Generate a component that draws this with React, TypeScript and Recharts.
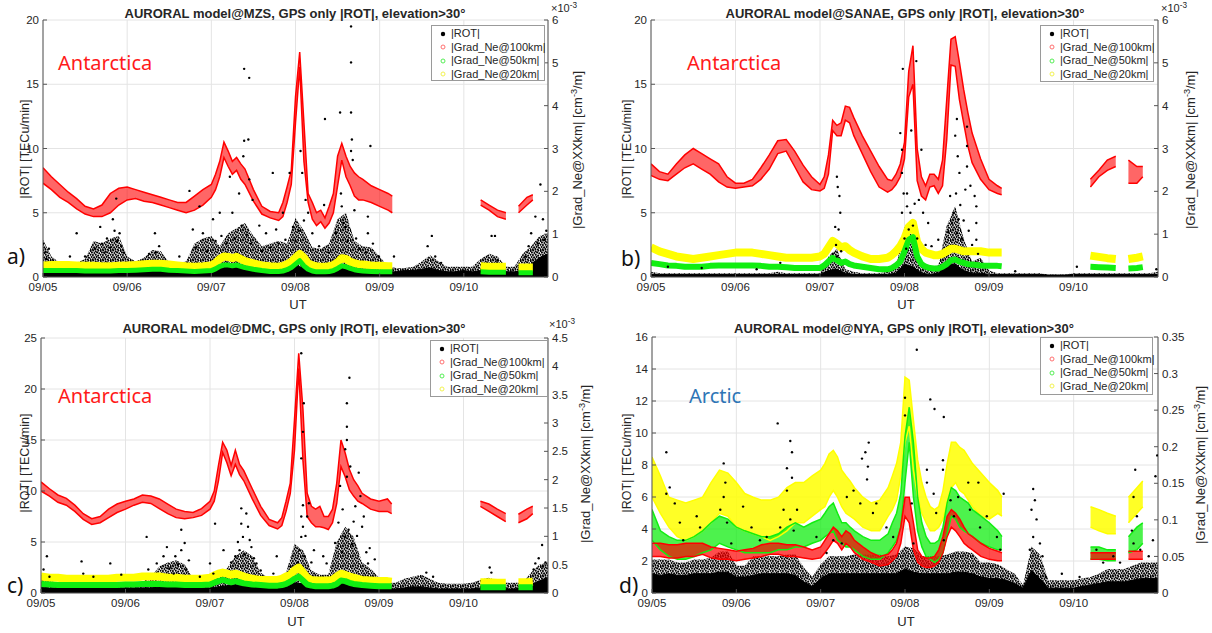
import React from "react";
import { ComposedChart, XAxis, YAxis, CartesianGrid, Line, Area, Scatter } from "recharts";

// x axis: days since 09/05 00 UT
const DAYS = ["09/05", "09/06", "09/07", "09/08", "09/09", "09/10"];

// time grid of the gradient curves (nulls in the series mark the data gaps)
const T = [
  0, 0.1, 0.2, 0.3, 0.4, 0.5, 0.6, 0.7, 0.8, 0.9,
  1.0, 1.1, 1.2, 1.3, 1.4, 1.5, 1.6, 1.7, 1.8, 1.9,
  2.0, 2.05, 2.1, 2.15, 2.2, 2.25, 2.3, 2.35, 2.4,
  2.5, 2.6, 2.7, 2.8,
  2.85, 2.9, 2.95, 3.0, 3.05, 3.1, 3.15, 3.2, 3.25, 3.3, 3.35, 3.4, 3.45, 3.5, 3.55, 3.6, 3.65, 3.7, 3.75, 3.8,
  3.9, 4.0, 4.1, 4.15,
  4.6, 5.2, 5.3, 5.4, 5.5, 5.58, 5.65, 5.75, 5.82,
];

// ---- a) MZS  (Grad_Ne in 1e-3 cm^-3/m)
const aRedHi = [
  2.55, 2.34, 2.16, 1.98, 1.83, 1.65, 1.59, 1.68, 1.95, 2.07,
  2.10, 2.04, 1.98, 1.92, 1.86, 1.80, 1.74, 1.74, 1.89, 2.04,
  2.16, 2.40, 2.70, 3.15, 2.94, 2.70, 2.79, 2.64, 2.52,
  2.04, 1.65, 1.53, 1.50,
  1.74, 2.10, 2.49, 4.20, 5.25, 3.60, 1.95, 1.74, 1.50, 1.56, 1.38, 1.65, 1.95, 2.82, 3.12, 2.82, 2.58, 2.43, 2.34, 2.28,
  2.13, 2.04, 1.95, 1.89,
  null, 1.80, 1.68, 1.56, 1.50, null, 1.65, 1.86, 1.92,
];
const aRedLo = [
  2.19, 2.04, 1.86, 1.74, 1.59, 1.47, 1.41, 1.41, 1.50, 1.68,
  1.80, 1.83, 1.77, 1.74, 1.68, 1.62, 1.56, 1.50, 1.56, 1.68,
  1.86, 2.04, 2.34, 2.79, 2.58, 2.40, 2.49, 2.28, 2.16,
  1.77, 1.47, 1.38, 1.32,
  1.41, 1.74, 2.16, 3.60, 4.90, 2.70, 1.74, 1.35, 1.20, 1.29, 1.14, 1.26, 1.50, 2.13, 2.73, 2.34, 2.13, 1.89, 1.80, 1.80,
  1.74, 1.65, 1.56, 1.50,
  null, 1.68, 1.56, 1.41, 1.35, null, 1.50, 1.68, 1.80,
];
const aYellow = [
  0.27, 0.28, 0.28, 0.28, 0.27, 0.26, 0.26, 0.25, 0.25, 0.26,
  0.27, 0.28, 0.30, 0.31, 0.31, 0.29, 0.27, 0.25, 0.24, 0.25,
  0.27, 0.33, 0.42, 0.48, 0.47, 0.44, 0.47, 0.42, 0.37,
  0.32, 0.27, 0.25, 0.24,
  0.26, 0.30, 0.36, 0.45, 0.54, 0.45, 0.32, 0.27, 0.25, 0.24, 0.24, 0.25, 0.28, 0.34, 0.44, 0.42, 0.36, 0.32, 0.30, 0.29,
  0.27, 0.26, 0.25, 0.25,
  null, 0.25, 0.24, 0.24, 0.24, null, 0.22, 0.22, 0.22,
];
const aGreen = [
  0.15, 0.15, 0.15, 0.15, 0.15, 0.14, 0.14, 0.14, 0.14, 0.15,
  0.15, 0.16, 0.17, 0.18, 0.18, 0.16, 0.15, 0.14, 0.13, 0.14,
  0.15, 0.19, 0.25, 0.28, 0.28, 0.26, 0.28, 0.25, 0.22,
  0.18, 0.15, 0.13, 0.13,
  0.14, 0.17, 0.22, 0.30, 0.38, 0.26, 0.18, 0.14, 0.12, 0.12, 0.12, 0.13, 0.15, 0.20, 0.26, 0.24, 0.20, 0.17, 0.15, 0.14,
  0.13, 0.12, 0.12, 0.12,
  null, 0.12, 0.11, 0.11, 0.11, null, 0.10, 0.10, 0.10,
];
// |ROT| (TECu/min), every 0.1 day: solid black floor and top of the dense dot cloud
const aFloor = [
  0.5, 0.4, 0.4, 0.4, 0.4, 0.4, 0.5, 0.6, 0.7, 0.6,
  0.5, 0.4, 0.4, 0.5, 0.5, 0.4, 0.4, 0.4, 0.5, 0.6,
  0.6, 0.7, 0.8, 0.8, 0.8, 0.6, 0.5, 0.5, 0.6, 0.7,
  0.9, 0.7, 0.5, 0.5, 0.5, 0.9, 0.9, 0.7, 0.6, 0.5,
  0.4, 0.4, 0.4, 0.5, 0.5, 0.6, 0.7, 0.5, 0.4, 0.4,
  0.5, 0.4, 0.5, 0.6, 0.5, 0.4, 0.4, 0.5, 1.0, 1.5,
  1.8,
];
const aDense = [
  2.9, 1.6, 1.1, 1.0, 1.1, 1.4, 2.8, 2.6, 3.0, 3.2,
  1.6, 1.2, 1.5, 2.1, 2.0, 1.1, 1.1, 1.2, 2.6, 3.0,
  3.2, 2.4, 3.4, 3.8, 4.2, 3.2, 2.4, 2.6, 2.8, 2.6,
  4.6, 3.6, 2.3, 2.2, 2.6, 4.5, 5.0, 2.8, 2.4, 2.3,
  1.6, 0.8, 0.7, 0.7, 0.8, 1.2, 1.7, 1.2, 0.8, 0.8,
  0.8, 0.8, 1.4, 1.8, 1.6, 0.8, 0.8, 1.8, 2.4, 3.2,
  3.4,
];
const aDots = [
  [0.0, 2.6], [0.04, 1.4], [0.02, 1.9], [0.07, 2.2], [0.32, 1.6], [0.4, 3.4], [0.5, 1.6],
  [0.62, 2.2], [0.68, 3.9], [0.7, 2.6], [0.73, 1.9], [0.76, 3.0], [0.8, 2.3], [0.83, 4.5], [0.85, 3.6], [0.87, 6.1],
  [0.88, 2.8], [0.91, 3.4], [0.93, 2.4], [0.96, 1.9], [1.26, 1.8], [1.33, 3.4], [1.34, 1.9], [1.38, 2.4],
  [1.62, 1.6], [1.74, 6.7], [1.78, 3.7], [1.82, 2.3], [1.86, 5.5], [1.9, 3.4], [1.95, 2.0], [2.02, 4.5], [2.05, 2.8],
  [2.1, 5.0], [2.12, 3.2], [2.18, 2.6], [2.22, 7.8], [2.25, 5.0], [2.28, 3.0], [2.33, 6.5], [2.36, 4.0], [2.38, 9.4],
  [2.39, 16.2], [2.39, 10.6], [2.42, 3.3], [2.44, 10.7], [2.45, 15.5], [2.45, 7.6], [2.47, 2.6], [2.49, 6.0],
  [2.57, 4.0], [2.6, 2.0], [2.65, 3.4], [2.7, 2.3], [2.73, 8.1], [2.77, 3.7], [2.8, 2.6], [2.85, 5.0], [2.88, 2.9],
  [2.93, 8.1], [2.97, 3.9], [3.0, 2.8], [3.04, 3.6], [3.06, 9.8], [3.08, 8.1], [3.1, 4.4], [3.12, 6.0], [3.15, 5.0],
  [3.2, 3.4], [3.28, 2.4], [3.34, 5.6], [3.35, 12.3], [3.4, 1.9], [3.48, 3.4], [3.53, 12.8], [3.54, 6.5], [3.55, 5.5],
  [3.57, 4.2], [3.59, 3.9], [3.62, 2.8], [3.66, 19.5], [3.66, 16.7], [3.66, 12.8], [3.67, 10.7], [3.66, 9.8],
  [3.68, 9.1], [3.7, 5.2], [3.72, 3.0], [3.76, 2.2], [3.84, 1.9], [3.86, 4.7], [3.86, 3.4], [3.89, 10.2], [3.92, 2.6],
  [3.99, 1.6], [4.17, 1.6], [4.57, 2.4], [4.62, 3.2], [4.66, 1.6], [4.73, 1.1], [5.33, 3.2], [5.37, 3.2], [5.4, 1.3],
  [5.73, 1.6], [5.77, 2.4], [5.8, 3.4], [5.85, 4.7], [5.88, 2.6], [5.91, 7.2], [5.94, 4.5], [5.96, 2.9], [5.98, 3.6],
];

// ---- b) SANAE
const bRedHi = [
  2.64, 2.46, 2.40, 2.64, 2.85, 3.00, 2.88, 2.76, 2.64, 2.34,
  2.19, 2.19, 2.28, 2.55, 2.85, 3.18, 3.21, 2.94, 2.61, 2.34,
  2.16, 2.34, 2.85, 3.66, 3.54, 3.60, 3.99, 3.96, 3.72,
  3.30, 2.94, 2.58, 2.28,
  2.25, 2.40, 2.64, 3.15, 4.80, 5.40, 3.00, 2.34, 2.13, 2.40, 2.40, 2.28, 2.73, 4.14, 5.55, 5.61, 5.01, 4.38, 3.84, 3.36,
  2.76, 2.28, 2.13, 2.07,
  null, 2.28, 2.49, 2.73, 2.82, null, 2.73, 2.58, 2.58,
];
const bRedLo = [
  2.37, 2.28, 2.25, 2.40, 2.55, 2.64, 2.52, 2.40, 2.22, 2.10,
  2.07, 2.10, 2.13, 2.28, 2.52, 2.88, 2.94, 2.58, 2.22, 2.04,
  2.01, 2.07, 2.40, 3.42, 3.30, 3.30, 3.66, 3.60, 3.30,
  2.88, 2.46, 2.10, 1.98,
  2.04, 2.16, 2.34, 2.76, 4.20, 4.50, 2.25, 1.89, 1.80, 2.10, 2.13, 1.95, 2.13, 3.21, 4.95, 4.92, 4.14, 3.60, 3.06, 2.67,
  2.28, 2.04, 1.95, 1.92,
  null, 2.10, 2.34, 2.49, 2.58, null, 2.19, 2.19, 2.34,
];
const bYellow = [
  0.69, 0.60, 0.54, 0.48, 0.45, 0.42, 0.45, 0.48, 0.51, 0.54,
  0.57, 0.57, 0.57, 0.54, 0.51, 0.48, 0.45, 0.45, 0.45, 0.45,
  0.48, 0.54, 0.69, 0.84, 0.78, 0.69, 0.72, 0.63, 0.57,
  0.48, 0.42, 0.42, 0.45,
  0.51, 0.60, 0.72, 0.90, 1.17, 1.26, 0.81, 0.66, 0.57, 0.54, 0.51, 0.51, 0.54, 0.60, 0.66, 0.66, 0.63, 0.60, 0.60, 0.60,
  0.60, 0.57, 0.57, 0.57,
  null, 0.50, 0.47, 0.44, 0.42, null, 0.42, 0.45, 0.48,
];
const bGreen = [
  0.33, 0.30, 0.27, 0.26, 0.24, 0.24, 0.24, 0.26, 0.27, 0.27,
  0.27, 0.27, 0.27, 0.26, 0.24, 0.24, 0.23, 0.21, 0.21, 0.21,
  0.21, 0.27, 0.36, 0.45, 0.39, 0.33, 0.36, 0.30, 0.27,
  0.24, 0.21, 0.18, 0.18,
  0.21, 0.27, 0.36, 0.60, 0.87, 0.93, 0.48, 0.30, 0.24, 0.21, 0.20, 0.20, 0.24, 0.30, 0.39, 0.41, 0.36, 0.33, 0.30, 0.29,
  0.27, 0.26, 0.26, 0.25,
  null, 0.24, 0.23, 0.22, 0.21, null, 0.20, 0.21, 0.23,
];
const bFloor = [
  0.2, 0.2, 0.2, 0.2, 0.2, 0.2, 0.2, 0.2, 0.2, 0.2,
  0.2, 0.2, 0.2, 0.2, 0.2, 0.2, 0.2, 0.2, 0.2, 0.2,
  0.2, 0.5, 0.6, 0.3, 0.2, 0.2, 0.2, 0.2, 0.2, 0.3,
  1.0, 0.8, 0.3, 0.2, 0.3, 1.0, 1.0, 0.5, 0.3, 0.3,
  0.2, 0.2, 0.2, 0.2, 0.2, 0.2, 0.2, 0.15, 0.15, 0.15,
  0.2, 0.2, 0.2, 0.2, 0.2, 0.2, 0.2, 0.2, 0.2, 0.2,
  0.2,
];
const bDense = [
  0.4, 0.3, 0.3, 0.3, 0.3, 0.3, 0.3, 0.3, 0.3, 0.3,
  0.3, 0.3, 0.3, 0.3, 0.3, 0.4, 0.3, 0.3, 0.3, 0.3,
  0.3, 1.6, 2.2, 0.6, 0.4, 0.3, 0.3, 0.3, 0.4, 0.8,
  3.9, 3.2, 1.2, 0.8, 0.9, 4.0, 5.5, 3.0, 1.2, 1.5,
  0.5, 0.3, 0.3, 0.3, 0.3, 0.3, 0.3, 0.2, 0.2, 0.2,
  0.3, 0.3, 0.3, 0.3, 0.3, 0.3, 0.3, 0.3, 0.3, 0.3,
  0.4,
];
const bDots = [
  [2.15, 1.8], [2.18, 3.9], [2.2, 7.8], [2.21, 7.0], [2.22, 3.7], [2.23, 6.3], [2.24, 5.0], [2.19, 2.5], [2.25, 2.0],
  [2.2, 1.6], [2.95, 11.2], [2.97, 9.9], [2.97, 8.1], [2.97, 5.0], [2.98, 16.2], [2.99, 6.5], [3.0, 3.0], [3.02, 2.2],
  [3.03, 5.5], [3.03, 6.5], [3.05, 3.7], [3.07, 5.0], [3.08, 11.4], [3.1, 4.0], [3.12, 5.7], [3.14, 16.8], [3.15, 3.0],
  [3.17, 6.0], [3.2, 9.9], [3.22, 5.0], [3.25, 2.5], [3.28, 4.2], [3.32, 2.4], [3.4, 2.9], [3.52, 3.5], [3.54, 6.3],
  [3.56, 4.2], [3.58, 5.0], [3.6, 11.0], [3.61, 6.5], [3.62, 12.3], [3.62, 3.4], [3.63, 9.4], [3.64, 4.5], [3.65, 8.1],
  [3.66, 5.6], [3.68, 3.0], [3.7, 4.4], [3.72, 6.8], [3.74, 11.7], [3.74, 10.2], [3.74, 8.6], [3.76, 3.6], [3.78, 7.1],
  [3.8, 2.5], [3.83, 6.3], [3.85, 5.5], [3.85, 4.2], [3.85, 2.9], [3.87, 1.8], [1.53, 1.1], [0.2, 0.8], [0.6, 0.7],
  [1.25, 0.6], [4.31, 0.45], [5.04, 0.8], [5.98, 0.6],
];

// ---- c) DMC
const cRedHi = [
  1.96, 1.84, 1.73, 1.67, 1.55, 1.40, 1.31, 1.35, 1.48, 1.57,
  1.62, 1.66, 1.73, 1.71, 1.66, 1.57, 1.48, 1.44, 1.42, 1.49,
  1.62, 1.80, 2.25, 2.66, 2.52, 2.25, 2.52, 2.27, 2.16,
  1.84, 1.53, 1.30, 1.24,
  1.33, 1.62, 1.94, 3.06, 4.23, 3.24, 1.76, 1.53, 1.48, 1.53, 1.35, 1.35, 1.48, 1.94, 2.70, 2.47, 2.18, 2.00, 1.89, 1.76,
  1.66, 1.62, 1.66, 1.57,
  null, 1.62, 1.57, 1.48, 1.40, null, 1.39, 1.48, 1.53,
];
const cRedLo = [
  1.80, 1.71, 1.60, 1.55, 1.44, 1.30, 1.21, 1.24, 1.33, 1.42,
  1.48, 1.55, 1.60, 1.58, 1.49, 1.40, 1.33, 1.31, 1.33, 1.37,
  1.48, 1.62, 1.98, 2.48, 2.30, 2.07, 2.27, 2.09, 1.98,
  1.66, 1.37, 1.19, 1.13,
  1.19, 1.44, 1.76, 2.52, 3.96, 2.34, 1.35, 1.24, 1.17, 1.17, 1.15, 1.12, 1.24, 1.58, 2.23, 2.05, 1.82, 1.71, 1.62, 1.58,
  1.48, 1.44, 1.44, 1.40,
  null, 1.53, 1.44, 1.35, 1.26, null, 1.24, 1.31, 1.40,
];
const cYellow = [
  0.29, 0.27, 0.27, 0.25, 0.25, 0.25, 0.25, 0.25, 0.25, 0.27,
  0.27, 0.27, 0.29, 0.29, 0.29, 0.27, 0.27, 0.25, 0.25, 0.25,
  0.27, 0.31, 0.34, 0.36, 0.34, 0.32, 0.34, 0.32, 0.29,
  0.25, 0.23, 0.23, 0.23,
  0.25, 0.29, 0.32, 0.40, 0.45, 0.36, 0.27, 0.23, 0.22, 0.22, 0.22, 0.22, 0.23, 0.29, 0.34, 0.32, 0.29, 0.27, 0.25, 0.23,
  0.22, 0.21, 0.21, 0.20,
  null, 0.19, 0.19, 0.18, 0.18, null, 0.19, 0.19, 0.20,
];
const cGreen = [
  0.16, 0.15, 0.14, 0.14, 0.14, 0.14, 0.14, 0.14, 0.14, 0.14,
  0.15, 0.15, 0.16, 0.16, 0.16, 0.15, 0.15, 0.14, 0.14, 0.14,
  0.15, 0.18, 0.21, 0.23, 0.21, 0.19, 0.21, 0.19, 0.17,
  0.15, 0.14, 0.13, 0.13,
  0.14, 0.16, 0.20, 0.25, 0.29, 0.22, 0.15, 0.13, 0.12, 0.12, 0.12, 0.12, 0.13, 0.16, 0.22, 0.21, 0.18, 0.16, 0.15, 0.14,
  0.13, 0.12, 0.12, 0.12,
  null, 0.10, 0.10, 0.10, 0.10, null, 0.10, 0.10, 0.10,
];
const cFloor = [
  0.6, 0.5, 0.5, 0.5, 0.5, 0.5, 0.5, 0.5, 0.5, 0.5,
  0.5, 0.5, 0.5, 0.5, 0.6, 0.7, 0.7, 0.6, 0.5, 0.5,
  0.5, 0.6, 0.7, 0.8, 0.8, 0.7, 0.6, 0.5, 0.5, 0.6,
  1.0, 0.9, 0.6, 0.6, 0.6, 1.0, 1.2, 1.0, 0.7, 0.6,
  0.5, 0.4, 0.4, 0.5, 0.6, 0.6, 0.5, 0.4, 0.4, 0.4,
  0.4, 0.4, 0.5, 0.6, 0.5, 0.4, 0.4, 0.5, 0.8, 1.2,
  1.5,
];
const cDense = [
  1.8, 1.2, 1.0, 1.0, 1.1, 1.6, 1.1, 1.0, 1.2, 1.1,
  1.0, 1.0, 1.1, 1.6, 2.6, 3.0, 3.2, 2.8, 1.4, 1.2,
  1.8, 1.6, 2.4, 3.6, 4.2, 3.6, 2.0, 1.4, 1.3, 2.0,
  4.8, 4.2, 2.2, 1.8, 1.8, 5.0, 6.5, 5.5, 3.0, 2.4,
  1.5, 1.0, 1.0, 1.4, 1.6, 1.8, 1.4, 1.0, 0.9, 0.9,
  0.9, 1.0, 1.3, 1.5, 1.2, 1.0, 1.0, 1.0, 2.0, 2.8,
  3.0,
];
const cDots = [
  [0.03, 2.3], [0.07, 3.6], [0.1, 1.6], [0.48, 3.1], [0.5, 1.9], [0.62, 1.6], [0.82, 2.9], [0.95, 1.8],
  [1.25, 5.5], [1.27, 2.3], [1.37, 2.9], [1.45, 3.6], [1.49, 4.5], [1.52, 2.4], [1.57, 1.9], [1.59, 3.6], [1.62, 2.8],
  [1.66, 6.2], [1.66, 4.2], [1.7, 4.9], [1.72, 2.3], [1.75, 3.2], [1.88, 1.6], [2.0, 2.9], [2.04, 1.9], [2.06, 6.8],
  [2.16, 4.2], [2.25, 3.0], [2.3, 3.6], [2.33, 5.0], [2.35, 4.2], [2.37, 8.3], [2.37, 6.8], [2.39, 5.5], [2.41, 3.8],
  [2.43, 7.8], [2.45, 6.5], [2.47, 5.2], [2.49, 4.5], [2.52, 3.4], [2.55, 2.9], [2.6, 2.2], [2.75, 1.9], [2.79, 3.6],
  [2.95, 2.6], [3.04, 3.0], [3.06, 4.2], [3.08, 23.5], [3.08, 13.2], [3.08, 7.5], [3.08, 5.5], [3.1, 15.8], [3.1, 8.6],
  [3.1, 6.5], [3.11, 18.6], [3.12, 3.6], [3.13, 5.6], [3.15, 7.5], [3.17, 8.8], [3.2, 3.0], [3.23, 4.2], [3.34, 3.6],
  [3.38, 2.9], [3.48, 4.9], [3.52, 6.9], [3.54, 10.5], [3.56, 4.0], [3.57, 8.2], [3.6, 14.1], [3.6, 5.5], [3.62, 18.6],
  [3.62, 16.3], [3.62, 15.0], [3.62, 11.4], [3.64, 6.2], [3.65, 21.1], [3.66, 12.4], [3.68, 4.8], [3.7, 7.0],
  [3.72, 8.5], [3.74, 5.6], [3.76, 11.8], [3.78, 9.5], [3.8, 6.5], [3.82, 7.5], [3.85, 4.0], [3.87, 2.9], [3.89, 4.4],
  [3.95, 3.3], [4.56, 2.0], [4.64, 1.6], [5.31, 2.5], [5.33, 2.0], [5.83, 2.3], [5.85, 2.9], [5.89, 3.4], [5.93, 4.7],
  [5.94, 2.6], [5.97, 3.0],
];

// ---- d) NYA  (Grad_Ne in cm^-3/m)
const dRedHi = [
  0.068, 0.068, 0.066, 0.066, 0.068, 0.068, 0.068, 0.063, 0.061, 0.059,
  0.057, 0.059, 0.061, 0.066, 0.068, 0.068, 0.066, 0.066, 0.063, 0.059,
  0.063, 0.072, 0.081, 0.090, 0.085, 0.077, 0.085, 0.081, 0.072,
  0.063, 0.055, 0.050, 0.053,
  0.059, 0.068, 0.090, 0.131, 0.131, 0.096, 0.059, 0.050, 0.048, 0.048, 0.050, 0.059, 0.077, 0.105, 0.114, 0.109, 0.101, 0.090, 0.081, 0.077,
  0.068, 0.061, 0.057, 0.055,
  null, 0.055, 0.055, 0.055, 0.055, null, 0.057, 0.057, 0.057,
];
const dRedLo = [
  0.050, 0.050, 0.048, 0.048, 0.050, 0.050, 0.053, 0.048, 0.046, 0.046,
  0.044, 0.046, 0.048, 0.050, 0.053, 0.053, 0.050, 0.050, 0.048, 0.046,
  0.048, 0.055, 0.063, 0.072, 0.068, 0.059, 0.068, 0.063, 0.055,
  0.046, 0.042, 0.037, 0.039,
  0.044, 0.050, 0.068, 0.105, 0.096, 0.059, 0.042, 0.037, 0.035, 0.035, 0.037, 0.042, 0.055, 0.077, 0.090, 0.085, 0.077, 0.068, 0.063, 0.059,
  0.050, 0.046, 0.044, 0.044,
  null, 0.046, 0.046, 0.046, 0.046, null, 0.046, 0.046, 0.046,
];
const dGreenHi = [
  0.114, 0.085, 0.077, 0.072, 0.072, 0.077, 0.085, 0.096, 0.105, 0.101,
  0.090, 0.085, 0.081, 0.077, 0.077, 0.081, 0.090, 0.096, 0.090, 0.096,
  0.101, 0.109, 0.118, 0.123, 0.109, 0.096, 0.096, 0.090, 0.085,
  0.077, 0.072, 0.072, 0.081,
  0.096, 0.109, 0.136, 0.214, 0.254, 0.206, 0.131, 0.096, 0.077, 0.068, 0.068, 0.072, 0.090, 0.123, 0.144, 0.140, 0.131, 0.127, 0.123, 0.114,
  0.105, 0.096, 0.085, 0.077,
  null, 0.063, 0.063, 0.059, 0.059, null, 0.077, 0.090, 0.096,
];
const dGreenLo = [
  0.072, 0.059, 0.050, 0.046, 0.046, 0.050, 0.055, 0.059, 0.068, 0.063,
  0.059, 0.055, 0.055, 0.055, 0.055, 0.059, 0.059, 0.063, 0.063, 0.068,
  0.072, 0.077, 0.081, 0.085, 0.072, 0.068, 0.063, 0.063, 0.059,
  0.050, 0.046, 0.046, 0.055,
  0.063, 0.072, 0.090, 0.151, 0.206, 0.131, 0.085, 0.063, 0.050, 0.046, 0.042, 0.046, 0.055, 0.081, 0.105, 0.101, 0.090, 0.085, 0.081, 0.077,
  0.068, 0.063, 0.059, 0.059,
  null, 0.046, 0.046, 0.044, 0.044, null, 0.055, 0.059, 0.068,
];
const dYellowHi = [
  0.186, 0.160, 0.131, 0.127, 0.123, 0.127, 0.131, 0.151, 0.168, 0.164,
  0.151, 0.136, 0.131, 0.127, 0.127, 0.131, 0.144, 0.151, 0.151, 0.160,
  0.168, 0.177, 0.190, 0.195, 0.186, 0.168, 0.160, 0.153, 0.144,
  0.131, 0.123, 0.127, 0.144,
  0.160, 0.177, 0.206, 0.295, 0.291, 0.236, 0.182, 0.151, 0.131, 0.118, 0.114, 0.118, 0.140, 0.177, 0.206, 0.206, 0.199, 0.195, 0.186, 0.177,
  0.164, 0.151, 0.140, 0.131,
  null, 0.118, 0.114, 0.109, 0.105, null, 0.131, 0.144, 0.153,
];
const dYellowLo = [
  0.131, 0.109, 0.090, 0.077, 0.072, 0.077, 0.085, 0.096, 0.109, 0.105,
  0.090, 0.085, 0.081, 0.077, 0.072, 0.077, 0.085, 0.096, 0.096, 0.105,
  0.114, 0.118, 0.131, 0.140, 0.131, 0.118, 0.109, 0.105, 0.101,
  0.090, 0.085, 0.085, 0.105,
  0.114, 0.127, 0.160, 0.206, 0.228, 0.168, 0.131, 0.109, 0.096, 0.085, 0.085, 0.090, 0.101, 0.123, 0.144, 0.151, 0.140, 0.136, 0.127, 0.118,
  0.105, 0.101, 0.109, 0.105,
  null, 0.090, 0.085, 0.081, 0.081, null, 0.096, 0.109, 0.118,
];
const dFloor = [
  1.2, 1.1, 1.2, 1.1, 1.1, 1.2, 1.2, 1.2, 1.3, 1.3,
  1.0, 1.0, 1.1, 1.2, 1.2, 1.2, 1.2, 1.1, 0.7, 0.4,
  0.9, 1.2, 1.2, 1.2, 1.2, 1.2, 1.2, 1.2, 1.2, 1.2,
  1.5, 1.3, 1.2, 1.2, 1.2, 1.2, 1.3, 1.3, 1.2, 1.0,
  0.9, 0.9, 0.8, 0.6, 0.3, 1.4, 0.9, 0.3, 0.3, 0.3,
  0.3, 0.4, 0.5, 0.6, 0.7, 0.7, 0.7, 0.8, 0.9, 0.9,
  0.9,
];
const dDense = [
  2.1, 2.1, 2.1, 1.9, 1.9, 2.1, 2.1, 2.2, 2.6, 2.6,
  1.7, 1.7, 2.3, 2.3, 2.3, 2.3, 2.4, 2.4, 1.6, 1.0,
  1.8, 2.3, 2.3, 2.3, 2.4, 2.4, 2.4, 2.4, 2.3, 2.4,
  2.9, 2.8, 2.3, 2.3, 2.3, 2.4, 2.6, 2.6, 2.5, 1.9,
  1.9, 1.8, 1.5, 1.2, 0.5, 2.9, 2.4, 0.8, 0.8, 0.8,
  0.8, 0.9, 1.0, 1.2, 1.5, 1.5, 1.5, 1.7, 1.9, 1.9,
  1.9,
];
const dDots = [
  [0.17, 8.8], [0.17, 6.2], [0.21, 6.6], [0.27, 5.6], [0.33, 4.4], [0.37, 3.3], [0.53, 4.8], [0.57, 4.1], [0.81, 5.2],
  [0.85, 8.1], [0.85, 6.0], [0.87, 6.9], [0.89, 4.4], [0.94, 3.1], [1.08, 5.4], [1.18, 4.1], [1.28, 3.3], [1.36, 3.5],
  [1.49, 10.6], [1.52, 4.1], [1.56, 5.2], [1.6, 7.8], [1.6, 6.4], [1.64, 9.5], [1.64, 4.6], [1.66, 8.8], [1.66, 7.2],
  [1.68, 3.9], [1.72, 5.2], [1.95, 3.5], [2.07, 2.5], [2.15, 3.3], [2.25, 3.1], [2.31, 6.0], [2.39, 6.4], [2.47, 5.6],
  [2.49, 8.4], [2.53, 8.8], [2.55, 7.1], [2.56, 7.9], [2.57, 9.4], [2.62, 5.0], [2.66, 5.6], [2.78, 4.1], [2.86, 3.5],
  [3.0, 12.2], [3.0, 11.1], [3.08, 5.6], [3.1, 3.1], [3.14, 15.2], [3.26, 7.7], [3.26, 6.9], [3.3, 12.1], [3.34, 6.2],
  [3.35, 11.5], [3.37, 5.0], [3.45, 8.3], [3.45, 7.7], [3.46, 11.0], [3.46, 3.3], [3.54, 5.8], [3.58, 4.8], [3.63, 6.0],
  [3.75, 6.9], [3.77, 5.2], [3.87, 6.9], [3.89, 4.1], [3.97, 4.8], [4.09, 3.5], [4.13, 2.7], [4.17, 6.2], [4.48, 2.7],
  [4.5, 5.2], [4.52, 6.5], [4.52, 3.5], [4.54, 5.8], [4.56, 4.6], [4.6, 3.1], [4.63, 2.3], [4.67, 1.0], [4.86, 1.2],
  [5.07, 1.0], [5.27, 2.7], [5.35, 1.9], [5.47, 2.3], [5.55, 1.9], [5.69, 3.9], [5.71, 6.0], [5.71, 3.1], [5.73, 7.7],
  [5.75, 4.8], [5.79, 2.7], [5.89, 2.3], [5.94, 3.3], [5.97, 7.3], [5.99, 8.6],
];

const FONT = "'Liberation Sans', Arial, Helvetica, sans-serif";
const INK = "#262626";
const RED = "#ff0000";
const GRN = "#11ee11";
const YEL = "#ffff00";
const LEGEND = [
  { label: "|ROT|", color: "#000" },
  { label: "|Grad_Ne@100km|", color: "#ff7070" },
  { label: "|Grad_Ne@50km|", color: "#55ee55" },
  { label: "|Grad_Ne@20km|", color: "#f2f250" },
];
const floorT = aFloor.map((_, i) => i / 10);
// irregular speckle tile used to fill the dense |ROT| dot cloud
const SPECK = [
  [0.7, 0.9], [3.2, 0.4], [5.6, 1.3], [8.4, 0.6], [1.9, 2.6], [4.4, 3.0], [7.1, 2.4], [9.3, 3.3], [0.5, 4.7], [2.9, 5.1],
  [5.7, 4.8], [8.2, 5.6], [1.6, 7.0], [4.1, 7.4], [6.6, 6.9], [9.0, 7.8], [0.4, 9.2], [2.8, 9.4], [5.4, 9.1], [7.8, 9.6],
];

type Band = { key: string; color: string; hi: (number | null)[]; lo?: (number | null)[]; width?: number; op?: number };

const panels = [
  {
    id: "a", box: [0, 0, 600, 316], plot: [43, 20, 548, 277],
    title: "AURORAL model@MZS, GPS only |ROT|, elevation>30°", titleAt: [295, 13],
    region: "Antarctica", regionColor: "#ff1a1a", regionAt: [58, 63], letter: "a)", letterAt: [7, 256],
    utAt: [298, 304], lLab: [25, 149], rLab: [577, 150], expAt: [551, 8], legend: [431, 25, 114, 56],
    lTicks: [0, 5, 10, 15, 20], rTicks: [0, 1, 2, 3, 4, 5, 6],
    floor: aFloor, dense: aDense, dots: aDots,
    bands: [
      { key: "y", color: YEL, hi: aYellow, width: 8 },
      { key: "g", color: GRN, hi: aGreen, width: 5 },
      { key: "r", color: RED, hi: aRedHi, lo: aRedLo, op: 0.6 },
    ] as Band[],
  },
  {
    id: "b", box: [600, 0, 612, 316], plot: [651, 20, 1158, 277],
    title: "AURORAL model@SANAE, GPS only |ROT|, elevation>30°", titleAt: [905, 13],
    region: "Antarctica", regionColor: "#ff1a1a", regionAt: [687, 63], letter: "b)", letterAt: [621, 258],
    utAt: [906, 304], lLab: [627, 149], rLab: [1190, 150], expAt: [1161, 8], legend: [1040, 25, 114, 57],
    lTicks: [0, 5, 10, 15, 20], rTicks: [0, 1, 2, 3, 4, 5, 6],
    floor: bFloor, dense: bDense, dots: bDots,
    bands: [
      { key: "y", color: YEL, hi: bYellow, width: 8 },
      { key: "g", color: GRN, hi: bGreen, width: 6 },
      { key: "r", color: RED, hi: bRedHi, lo: bRedLo, op: 0.6 },
    ] as Band[],
  },
  {
    id: "c", box: [0, 316, 600, 317], plot: [41, 338, 548, 593],
    title: "AURORAL model@DMC, GPS only |ROT|, elevation>30°", titleAt: [294, 328],
    region: "Antarctica", regionColor: "#ff1a1a", regionAt: [58, 396], letter: "c)", letterAt: [7, 585],
    utAt: [296, 621], lLab: [25, 463], rLab: [585, 464], expAt: [549, 324], legend: [430, 340, 118, 57],
    lTicks: [0, 5, 10, 15, 20, 25], rTicks: [0, 0.5, 1, 1.5, 2, 2.5, 3, 3.5, 4, 4.5],
    floor: cFloor, dense: cDense, dots: cDots,
    bands: [
      { key: "y", color: YEL, hi: cYellow, width: 8 },
      { key: "g", color: GRN, hi: cGreen, width: 6 },
      { key: "r", color: RED, hi: cRedHi, lo: cRedLo, op: 0.6 },
    ] as Band[],
  },
  {
    id: "d", box: [600, 316, 612, 317], plot: [652, 337, 1158, 593],
    title: "AURORAL model@NYA, GPS only |ROT|, elevation>30°", titleAt: [904, 328],
    region: "Arctic", regionColor: "#2e75b6", regionAt: [689, 396], letter: "d)", letterAt: [619, 585],
    utAt: [906, 621], lLab: [627, 463], rLab: [1200, 465], expAt: null, legend: [1040, 337, 113, 58],
    lTicks: [0, 2, 4, 6, 8, 10, 12, 14, 16], rTicks: [0, 0.05, 0.1, 0.15, 0.2, 0.25, 0.3, 0.35],
    floor: dFloor, dense: dDense, dots: dDots,
    bands: [
      { key: "y", color: YEL, hi: dYellowHi, lo: dYellowLo, op: 0.85 },
      { key: "g", color: GRN, hi: dGreenHi, lo: dGreenLo, op: 0.75 },
      { key: "r", color: RED, hi: dRedHi, lo: dRedLo, op: 0.7 },
    ] as Band[],
  },
];

const dotShape = (p: any) => <circle cx={p.cx} cy={p.cy} r={1.2} fill="#000" />;
const fmt = (v: number) => String(+v.toFixed(2));

function Txt({ at, children, style, left = false, rot = false }: any) {
  const tr = `translate(${left ? "0" : "-50%"},-50%)${rot ? " rotate(-90deg)" : ""}`;
  return (
    <div style={{ position: "absolute", left: at[0], top: at[1], transform: tr, whiteSpace: "nowrap", lineHeight: 1, color: INK, ...style }}>
      {children}
    </div>
  );
}

function Panel({ p }: { p: (typeof panels)[number] }) {
  const [bx, by, bw, bh] = p.box;
  const [pl, pt, pr, pb] = p.plot;
  const margin = { left: pl - bx - 30, right: bx + bw - pr - 30, top: pt - by, bottom: by + bh - pb - 20 };
  const rows = T.map((t, i) => {
    const r: any = { t };
    p.bands.forEach((b) => {
      r[b.key + "H"] = b.hi[i];
      if (b.lo) r[b.key + "L"] = b.lo[i];
    });
    return r;
  });
  const floorRows = floorT.map((t, i) => ({ t, v: p.floor[i], d: p.dense[i] }));
  const dotRows = p.dots.map(([t, v]) => ({ t, v }));
  const lMax = p.lTicks[p.lTicks.length - 1];
  const rMax = p.rTicks[p.rTicks.length - 1];
  const tick = { fill: INK, fontSize: 11.5, fontFamily: FONT };
  const pid = "speck-" + p.id;

  return (
    <>
      <div style={{ position: "absolute", left: bx, top: by }}>
        <ComposedChart width={bw} height={bh} data={rows} margin={margin}>
          <defs>
            <pattern id={pid} width={10} height={10} patternUnits="userSpaceOnUse">
              {SPECK.map(([x, y], i) => (
                <circle key={i} cx={x} cy={y} r={1.05} fill="#000" />
              ))}
            </pattern>
          </defs>
          <CartesianGrid stroke="#e4e4e4" yAxisId="l" />
          <XAxis dataKey="t" type="number" domain={[0, 6]} ticks={[0, 1, 2, 3, 4, 5]} interval={0}
            tickFormatter={(v) => DAYS[v]} allowDataOverflow height={20} tickSize={-4} tickMargin={10}
            stroke="#555" tick={tick} />
          <YAxis yAxisId="l" domain={[0, lMax]} ticks={p.lTicks} interval={0} allowDataOverflow width={30}
            tickSize={-4} tickMargin={8} stroke="#555" tick={tick} />
          <YAxis yAxisId="r" orientation="right" domain={[0, rMax]} ticks={p.rTicks} interval={0} allowDataOverflow
            width={30} tickSize={-4} tickMargin={8} stroke="#555" tick={tick} tickFormatter={fmt} />
          <Area yAxisId="l" data={floorRows} dataKey="d" type="linear" fill={`url(#${pid})`} fillOpacity={1}
            stroke="none" isAnimationActive={false} />
          <Area yAxisId="l" data={floorRows} dataKey="v" type="linear" fill="#000" fillOpacity={1}
            stroke="#000" strokeWidth={1} isAnimationActive={false} />
          {p.bands.map((b) =>
            b.lo ? (
              <React.Fragment key={b.key}>
                <Area yAxisId="r" dataKey={(r: any) => (r[b.key + "H"] == null ? null : [r[b.key + "L"], r[b.key + "H"]])}
                  type="linear" fill={b.color} fillOpacity={b.op} stroke="none" isAnimationActive={false} />
                <Line yAxisId="r" dataKey={b.key + "H"} type="linear" stroke={b.color} strokeWidth={1.5} dot={false} isAnimationActive={false} />
                <Line yAxisId="r" dataKey={b.key + "L"} type="linear" stroke={b.color} strokeWidth={1.5} dot={false} isAnimationActive={false} />
              </React.Fragment>
            ) : (
              <Line key={b.key} yAxisId="r" dataKey={b.key + "H"} type="linear" stroke={b.color} strokeWidth={b.width}
                strokeLinejoin="round" dot={false} isAnimationActive={false} />
            )
          )}
          <Scatter yAxisId="l" data={dotRows} dataKey="v" shape={dotShape} isAnimationActive={false} />
        </ComposedChart>
      </div>

      <Txt at={p.titleAt} style={{ fontSize: 13, fontWeight: 700 }}>{p.title}</Txt>
      <Txt at={p.regionAt} left style={{ fontSize: 20, color: p.regionColor, fontFamily: "'Noto Sans', sans-serif" }}>{p.region}</Txt>
      <Txt at={p.letterAt} left style={{ fontSize: 21, color: "#111", fontFamily: "'Noto Sans', sans-serif" }}>{p.letter}</Txt>
      <Txt at={p.utAt} style={{ fontSize: 13 }}>UT</Txt>
      <Txt at={p.lLab} rot style={{ fontSize: 12.5 }}>|ROT| [TECu/min]</Txt>
      <Txt at={p.rLab} rot style={{ fontSize: 13 }}>
        |Grad_Ne@XXkm| [cm<sup style={{ fontSize: "0.7em" }}>-3</sup>/m]
      </Txt>
      {p.expAt && (
        <Txt at={p.expAt} left style={{ fontSize: 11 }}>
          ×10<sup style={{ fontSize: "0.75em" }}>-3</sup>
        </Txt>
      )}
      <div style={{
        position: "absolute", left: p.legend[0], top: p.legend[1], width: p.legend[2], height: p.legend[3],
        border: "1px solid #9a9a9a", background: "#fff", boxSizing: "border-box", padding: "1px 0 0 6px",
        fontSize: 11, lineHeight: "13.5px", color: INK,
      }}>
        {LEGEND.map((e, i) => (
          <div key={e.label} style={{ display: "flex", alignItems: "center", whiteSpace: "nowrap" }}>
            <svg width={13} height={10} style={{ flex: "none" }}>
              {i === 0 ? <circle cx={5} cy={5} r={2.2} fill="#000" /> : <circle cx={5} cy={5} r={2} fill="none" stroke={e.color} strokeWidth={1} />}
            </svg>
            {e.label}
          </div>
        ))}
      </div>
    </>
  );
}

export default function App() {
  return (
    <div style={{ position: "relative", width: 1212, height: 633, background: "#fff", fontFamily: FONT, overflow: "hidden" }}>
      <style>{"body{margin:0}"}</style>
      {panels.map((p) => (
        <Panel key={p.id} p={p} />
      ))}
    </div>
  );
}
